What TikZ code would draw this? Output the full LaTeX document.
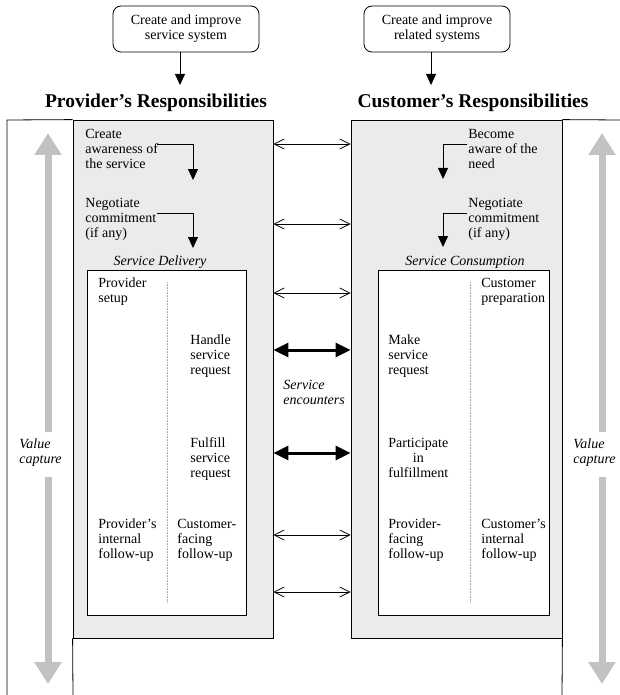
\documentclass[tikz,border=0pt]{standalone}
\usepackage{fontspec}
\setmainfont{Liberation Serif}
\usetikzlibrary{arrows.meta}
\definecolor{boxgray}{HTML}{EBEBEB}
\definecolor{arrgray}{HTML}{C2C2C2}
\begin{document}
\begin{tikzpicture}[x=1pt,y=-1pt,line width=0.8pt,
  txt/.style={font=\fontsize{14}{15}\selectfont, align=left, inner sep=0pt, anchor=north west},
  itxt/.style={font=\fontsize{14}{15}\selectfont\itshape, align=left, inner sep=0pt},
  topbox/.style={draw, rounded corners=8pt, minimum width=146pt, minimum height=46pt, align=center, inner sep=0pt, font=\fontsize{14}{15}\selectfont},
  ttl/.style={font=\fontsize{19.5}{22}\selectfont\bfseries, inner sep=0pt, anchor=base},
  graybox/.style={draw, fill=boxgray, inner sep=0pt},
  whitebox/.style={draw, fill=white, inner sep=0pt},
  blkarr/.style={-{Triangle[length=11pt,width=10pt]}},
  thinarr/.style={{Straight Barb[length=10pt,width=10pt]}-{Straight Barb[length=10pt,width=10pt]}},
  thickarr/.style={line width=3pt,{Triangle[length=15pt,width=14pt]}-{Triangle[length=15pt,width=14pt]}},
  grayarr/.style={draw=arrgray, line width=7pt, -{Triangle[length=22pt,width=26pt]}, color=arrgray},
  divider/.style={draw=gray!70, dash pattern=on 0.8pt off 0.8pt, line width=0.8pt}
]
\useasboundingbox (0,0) rectangle (620,695);

% top boxes
\node[topbox] (sys) at (186,29) {Create and improve\\service system};
\node[topbox] (rel) at (437,29) {Create and improve\\related systems};
\coordinate (sysT) at (180,85);
\coordinate (relT) at (431,85);
\draw[blkarr] (sys.south -| sysT) -- (sysT);
\draw[blkarr] (rel.south -| relT) -- (relT);

% titles
\node[ttl] (pt) at (156,108) {Provider’s Responsibilities};
\node[ttl] (ct) at (473,108) {Customer’s Responsibilities};

% gray boxes
\node[graybox, minimum width=200pt, minimum height=518pt] (gL) at (173,379) {};
\node[graybox, minimum width=211pt, minimum height=518pt] (gR) at (456.5,379) {};

% outer frame lines
\coordinate (oL) at (7,120);
\coordinate (oLb) at (7,695);
\coordinate (fLb) at (73,695);
\coordinate (oR) at (620,120);
\coordinate (fRb) at (562,695);
\draw (oLb) -- (oL) -- (gL.north west);
\draw (gL.south west) -- (fLb);
\draw (gR.north east) -- (oR);
\draw (gR.south east) -- (fRb);

% inner boxes
\node[whitebox, minimum width=159pt, minimum height=345pt] (iL) at (166.5,442.5) {};
\node[whitebox, minimum width=171pt, minimum height=345pt] (iR) at (463.5,442.5) {};
\draw[divider] (167,282) -- (167,603);
\draw[divider] (470,282) -- (470,603);

\node[itxt, anchor=base] (sd) at (160,265) {Service Delivery};
\node[itxt, anchor=base] (sc) at (465,265) {Service Consumption};

% upper texts
\node[txt] (aw) at (85,128.5) {Create\\awareness of\\the service};
\node[txt] (ngL) at (85,197.5) {Negotiate\\commitment\\(if any)};
\node[txt] (bn) at (468,128.5) {Become\\aware of the\\need};
\node[txt] (ngR) at (468,197.5) {Negotiate\\commitment\\(if any)};

\coordinate (a1s) at (157,144); \coordinate (a1e) at (193,180);
\coordinate (a2s) at (157,213); \coordinate (a2e) at (193,248);
\coordinate (b1s) at (467,144); \coordinate (b1e) at (443,179);
\coordinate (b2s) at (467,213); \coordinate (b2e) at (443,247);
\draw[blkarr] (a1s) -| (a1e);
\draw[blkarr] (a2s) -| (a2e);
\draw[blkarr] (b1s) -| (b1e);
\draw[blkarr] (b2s) -| (b2e);

% inner texts left
\node[txt] (ps) at (98,277.5) {Provider\\setup};
\node[txt] (hs) at (190,334.5) {Handle\\service\\request};
\node[txt] (fs) at (190,437.5) {Fulfill\\service\\request};
\node[txt] (pi) at (98,518.5) {Provider’s\\internal\\follow-up};
\node[txt] (cf) at (177,518.5) {Customer-\\facing\\follow-up};

% inner texts right
\node[txt] (cp) at (481,277.5) {Customer\\preparation};
\node[txt] (ms) at (388,334.5) {Make\\service\\request};
\node[txt, align=center] (pf) at (388,437.5) {Participate\\in\\fulfillment};
\node[txt] (pff) at (388,518.5) {Provider-\\facing\\follow-up};
\node[txt] (ci) at (481,518.5) {Customer’s\\internal\\follow-up};

% service encounters
\node[itxt, anchor=north west] (se) at (283,380) {Service\\encounters};

% horizontal arrows
\foreach \yy/\nm in {144/h1,224/h2,293/h3,535/h4,592/h5}{
  \coordinate (\nm) at (312,\yy);
  \draw[thinarr] (gL.east |- \nm) -- (gR.west |- \nm);
}
\coordinate (k1) at (312,350);
\coordinate (k2) at (312,453);
\draw[thickarr] (gL.east |- k1) -- (gR.west |- k1);
\draw[thickarr] (gL.east |- k2) -- (gR.west |- k2);

% value capture
\node[itxt, anchor=north west] (vcL) at (19,438) {Value\\capture};
\node[itxt, anchor=north west] (vcR) at (573,438) {Value\\capture};
\coordinate (gLt) at (48,133); \coordinate (gLu) at (48,432);
\coordinate (gLd) at (48,477); \coordinate (gLb) at (48,684);
\coordinate (gRt) at (602,133); \coordinate (gRu) at (602,432);
\coordinate (gRd) at (602,477); \coordinate (gRb) at (602,684);
\draw[grayarr] (gLu) -- (gLt);
\draw[grayarr] (gLd) -- (gLb);
\draw[grayarr] (gRu) -- (gRt);
\draw[grayarr] (gRd) -- (gRb);
\end{tikzpicture}
\end{document}
